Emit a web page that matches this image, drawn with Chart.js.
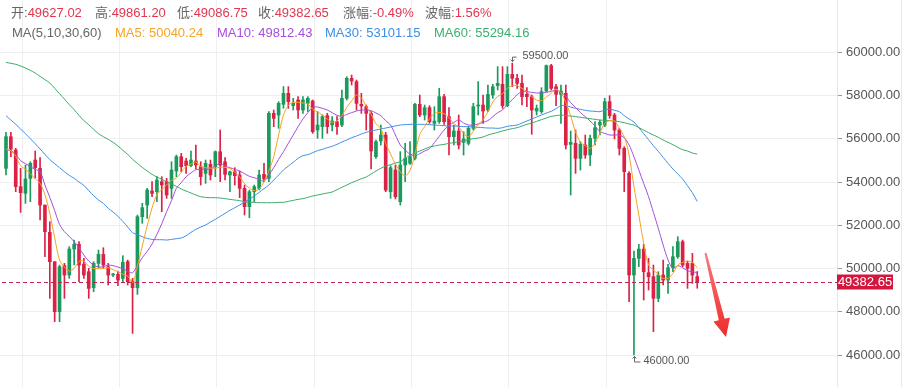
<!DOCTYPE html>
<html><head><meta charset="utf-8">
<script src="https://cdn.jsdelivr.net/npm/chart.js@4.4.1/dist/chart.umd.min.js"></script>
<style>
html,body{margin:0;padding:0;background:#fff;}
#wrap{position:relative;width:906px;height:387px;overflow:hidden;}
#c{position:absolute;left:0;top:0;}
.hdr{position:absolute;font-family:"Liberation Sans","Noto Sans CJK SC",sans-serif;font-size:13px;white-space:nowrap;line-height:16px;}
.lb{color:#666}
.rv{color:#e3364f}
</style></head>
<body>
<div id="wrap">
<canvas id="c" width="906" height="387"></canvas>
<div id="h1"></div>
<div id="h2"></div>
</div>
<script>
// ---------------- data ----------------
const open = [
54633,56097,55480,53784,53476,54170,55018,54633,52936,51672,
50315,48002,50130,49698,50901,51117,50208,49852,49112,50238,
50654,50084,49698,49729,49544,50315,49421,49112,52397,52936,
53584,53553,54016,54016,53707,54509,55172,54972,54756,54972,
54710,54401,54818,54710,55403,54941,54324,54478,54324,53707,
52859,53553,53707,54355,54170,57177,57100,57593,58102,57532,
57794,57331,57640,57747,56406,56560,57069,56637,56791,56637,
57871,58796,58642,57594,57485,57177,55172,55897,56175,53553,
54555,53091,54787,54864,55095,57593,57100,57439,56714,56791,
57948,57023,56098,56360,55835,55789,56483,57517,57563,57331,
58025,58457,58519,57532,58981,58796,58565,58056,57948,57285,
57254,58210,59382,58410,58056,58102,55743,55789,55095,55712,
55249,56021,56637,56637,57717,57100,56406,55558,54401,49698,
50469,50901,49806,49621,48619,49698,49467,50038,50546,51240,
50238,50238,49627.02];
const high = [
56298,56298,55558,54633,54787,54941,55434,55126,52936,52165,
50315,50161,50238,51009,51317,51240,50469,50007,50315,50854,
50962,50238,49775,49883,50592,50392,49544,52474,53014,53707,
54016,54247,54247,54170,54941,55249,55326,55095,55434,55712,
54941,55018,55018,55434,56406,55126,54509,54663,54509,53861,
53630,53861,54555,54864,57254,57331,57717,58411,58411,57871,
57948,57948,57948,57794,57254,57100,57177,57023,57023,58256,
58873,58950,58719,58102,57563,57254,55943,56637,56298,54756,
54787,55403,55789,55866,57640,58025,57563,57532,57485,58333,
58056,57439,56637,57100,56329,56560,57640,58642,58025,58488,
58519,59336,59336,59336,59500,58981,58950,58364,58025,57563,
58364,59413,59444,58519,58488,58488,56360,56406,55866,56175,
56175,56791,56868,57871,57994,57177,56483,55635,54478,50808,
51117,51117,50469,50161,49852,50392,50192,51009,51472,51317,
50346,50700,49861.20];
const low = [
54324,55172,53553,52597,53014,53091,54170,52243,50546,48619,
47540,47540,48619,49544,50161,49390,49544,48619,48927,50038,
50007,49236,49621,49205,49359,49236,47000,48804,52088,52320,
53322,53091,52628,53245,53245,54247,54478,54401,54710,54602,
53861,53939,54093,54247,54016,54093,53553,53861,53276,52474,
52350,53091,53630,54016,54016,56560,56483,57408,57408,57331,
56946,57177,57254,56252,56021,56021,56252,56360,56206,56560,
57794,58488,57331,57177,56406,54602,55095,55712,53553,53245,
53214,52936,54016,54818,55018,57023,56868,56714,56406,56714,
56668,55249,55712,55527,55249,55712,56406,57100,56714,57254,
57871,58256,57408,57485,58411,58333,57563,57485,56206,57100,
57177,58179,58256,57532,56714,55527,53399,54401,54555,55095,
54756,55712,56175,56560,56946,55990,55249,53553,48465,46000,
50084,48542,49005,47077,48465,49236,48850,49853,50469,50084,
49082,49313,49086.75];
const close = [
56097,55527,53784,53507,54139,54864,54663,52936,51703,50315,
48002,50084,49698,50901,51117,50161,49698,49081,50238,50654,
50161,49698,49729,49467,50284,49390,49112,52397,52813,53630,
53476,54093,53861,53399,54555,55172,54710,54756,55018,54787,
54247,54864,54324,55403,54787,54355,54478,54293,53707,52859,
53553,53784,54324,54139,57177,56946,57639,58102,57717,57639,
57331,57794,57870,56329,56637,57023,56560,56822,56560,57871,
58796,58673,57640,57516,57177,55434,55866,56175,53630,54663,
53322,54787,55095,55172,57593,57100,57439,56792,56822,57948,
56791,56098,56360,55712,55990,56483,57485,57563,57285,58056,
58410,58565,57532,58981,58796,58565,57948,57948,57331,57408,
58179,59382,58333,58056,58210,55712,55835,55095,55743,55249,
56021,56514,56760,57717,57069,56406,55558,54478,49698,50469,
50901,49852,49621,48619,49698,49467,50038,50546,51240,50161,
50007,49698,49382.65];
const ma5 = [
55527,55450,55188,54756,54586,54386,54155,53939,53414,52551,
51425,50392,50068,49883,50007,50330,50346,50099,50007,49991,
50007,50038,49945,49852,49745,49652,49359,50115,51040,51965,
52798,53414,53646,53862,54078,54185,54448,54725,54833,54926,
54710,54663,54648,54633,54694,54679,54633,54448,54247,53923,
53723,53600,53677,54016,54509,55172,56175,57100,57547,57686,
57686,57655,57609,57362,57239,57100,56915,56761,56822,57069,
57454,57747,58025,57902,57501,57131,56699,56483,55789,55296,
54833,54478,54278,54540,55280,56205,56560,56930,57177,57223,
57162,56977,56699,56545,56252,56098,56344,56668,56884,57254,
57701,57963,58087,58333,58457,58457,58333,58179,57948,57794,
57763,57932,58102,58287,58133,57686,57069,56313,55851,55681,
55558,55789,56267,56714,56838,56822,56483,56098,55249,53785,
52474,51163,50161,49930,49729,49544,49544,49775,50161,50284,
50346,50284,50040.24];
const ma10 = [
55481,55450,55280,54987,54848,54710,54586,54478,53862,53291,
52674,52042,51703,51487,51240,50963,50623,50346,50161,50068,
50084,50161,50130,50068,49991,49868,49806,50146,50500,50793,
51132,51579,52073,52628,53137,53708,53970,54247,54417,54571,
54586,54602,54602,54740,54864,54740,54663,54586,54509,54386,
54263,54201,54124,54031,54324,54663,55049,55404,55789,56175,
56560,56915,57208,57454,57470,57408,57331,57208,57084,57038,
57131,57208,57285,57331,57331,57300,57192,57069,56838,56637,
56175,55712,55481,55280,55203,55311,55434,55542,55820,56113,
56406,56622,56761,56869,56730,56637,56637,56683,56761,56838,
57023,57208,57331,57593,57809,58040,58179,58179,58148,58117,
58117,58148,58195,58256,58133,57979,57670,57454,57208,57023,
56822,56591,56329,56252,56175,56175,56175,56051,55712,55172,
54555,53939,53322,52597,51857,51086,50392,50007,50130,50037,
49898,49852,49812.43];
const ma30 = [
57069,56869,56668,56452,56236,56005,55774,55527,55280,55034,
54848,54663,54478,54309,54170,54000,53846,53600,53368,53168,
53013,52782,52613,52412,52181,51919,51657,51564,51472,51394,
51348,51333,51333,51317,51348,51379,51410,51518,51672,51811,
51919,52011,52150,52273,52412,52551,52690,52813,52936,53075,
53199,53353,53522,53692,53862,54093,54324,54555,54741,54910,
55095,55219,55265,55357,55450,55512,55589,55651,55743,55851,
55943,56051,56128,56221,56298,56360,56406,56452,56498,56545,
56591,56637,56653,56668,56668,56668,56668,56653,56637,56622,
56606,56591,56591,56576,56560,56560,56545,56529,56514,56498,
56498,56483,56514,56576,56606,56637,56730,56822,56915,57007,
57100,57192,57269,57393,57532,57532,57470,57408,57362,57316,
57285,57269,57254,57331,57377,57316,57254,57069,56915,56776,
56514,56236,55959,55681,55419,55142,54864,54602,54371,54139,
53831,53507,53101.15];
const ma60 = [
59536,59490,59444,59367,59274,59166,59043,58888,58734,58580,
58333,58087,57840,57578,57347,57084,56838,56653,56437,56236,
56097,55974,55835,55666,55465,55280,55049,54864,54679,54509,
54355,54232,54124,54016,53908,53800,53677,53584,53492,53399,
53322,53291,53276,53276,53260,53229,53199,53168,53137,53091,
53060,53060,53044,53044,53044,53044,53060,53060,53106,53152,
53199,53229,53291,53353,53399,53445,53492,53538,53646,53754,
53862,53970,54062,54155,54232,54371,54509,54633,54740,54802,
54879,54941,55095,55249,55342,55434,55527,55619,55666,55712,
55743,55789,55820,55866,55897,55959,56005,56036,56082,56175,
56236,56298,56360,56421,56468,56514,56591,56668,56730,56807,
56884,56961,57038,57069,57100,57069,57054,57023,56992,56961,
56930,56899,56869,56853,56838,56822,56791,56745,56683,56637,
56514,56406,56282,56175,56067,55943,55835,55727,55604,55496,
55434,55342,55294.16];
const yTicks = [46000,48000,50000,52000,54000,56000,58000,60000];
const headerLine1 = [["开:", "49627.02"], ["高:", "49861.20"], ["低:", "49086.75"], ["收:", "49382.65"], ["涨幅:", "-0.49%"], ["波幅:", "1.56%"]];
const headerLine2 = ["MA(5,10,30,60)", "MA5: 50040.24", "MA10: 49812.43", "MA30: 53101.15", "MA60: 55294.16"];

// ---------------- header ----------------
const h1x = [11, 95, 177, 258, 343, 425];
const h2x = [12, 115, 217, 325, 434];
const maColors = ['#666', '#f5a524', '#a64de0', '#3d8fe6', '#3bb06c'];
const h1 = document.getElementById('h1');
headerLine1.forEach((p, k) => {
  const d = document.createElement('div');
  d.className = 'hdr';
  d.style.left = h1x[k] + 'px'; d.style.top = '5px';
  d.innerHTML = '<span class="lb">' + p[0] + '</span><span class="rv">' + p[1] + '</span>';
  h1.appendChild(d);
});
const h2 = document.getElementById('h2');
headerLine2.forEach((t, k) => {
  const d = document.createElement('div');
  d.className = 'hdr';
  d.style.left = h2x[k] + 'px'; d.style.top = '24.5px';
  d.style.color = maColors[k];
  d.textContent = t;
  h2.appendChild(d);
});

// ---------------- chart ----------------
const UP = '#1a9a5c', DOWN = '#dc2146';
const idx = close.map((_, i) => i);
const cColors = idx.map(i => close[i] >= open[i] ? UP : DOWN);
const wickData = idx.map(i => ({x: i, y: [low[i], high[i]]}));
const bodyData = idx.map(i => ({x: i, y: [open[i], close[i]]}));
const asLine = arr => arr.map((v, i) => ({x: i, y: v}));
const lineDs = (arr, color) => ({type: 'line', data: asLine(arr), borderColor: color, borderWidth: 1,
  pointRadius: 0, tension: 0.3, order: 1, fill: false});

const overlay = {
  id: 'overlay',
  afterDatasetsDraw(chart) {
    const {ctx, chartArea: a, scales: {x, y}} = chart;
    const last = close[close.length - 1];
    const py = Math.round(y.getPixelForValue(last)) + 0.5;
    ctx.save();
    ctx.strokeStyle = '#bd2452';
    ctx.lineWidth = 1;
    ctx.setLineDash([4, 3]);
    ctx.beginPath(); ctx.moveTo(a.left + 2, py); ctx.lineTo(a.right, py); ctx.stroke();
    ctx.setLineDash([]);

    // high / low markers
    const hMax = Math.max(...high), lMin = Math.min(...low);
    const iMax = high.indexOf(hMax), iMin = low.indexOf(lMin);
    ctx.strokeStyle = '#666'; ctx.fillStyle = '#555';
    ctx.font = '11px "Liberation Sans", sans-serif';
    ctx.textBaseline = 'middle'; ctx.textAlign = 'left';
    let hx = Math.round(x.getPixelForValue(iMax)) + 0.5, hy = y.getPixelForValue(hMax);
    ctx.beginPath();
    ctx.moveTo(hx + 4, hy - 6); ctx.lineTo(hx, hy - 6); ctx.lineTo(hx, hy - 1.5);
    ctx.moveTo(hx - 2, hy - 3.5); ctx.lineTo(hx, hy - 1.5); ctx.lineTo(hx + 2, hy - 3.5);
    ctx.stroke();
    ctx.fillText(hMax.toFixed(2), hx + 10, hy - 7);
    let lx = Math.round(x.getPixelForValue(iMin)) + 0.5, ly = y.getPixelForValue(lMin);
    ctx.beginPath();
    ctx.moveTo(lx + 6, ly + 7); ctx.lineTo(lx, ly + 7); ctx.lineTo(lx, ly + 1.5);
    ctx.moveTo(lx - 2, ly + 3.5); ctx.lineTo(lx, ly + 1.5); ctx.lineTo(lx + 2, ly + 3.5);
    ctx.stroke();
    ctx.fillText(lMin.toFixed(2), lx + 9, ly + 5.5);

    // red trend arrow
    const p0 = {x: x.getPixelForValue(143.7), y: y.getPixelForValue(50718)};
    const p1 = {x: x.getPixelForValue(147.9), y: y.getPixelForValue(46833)};
    const dx = p1.x - p0.x, dy = p1.y - p0.y, L = Math.hypot(dx, dy);
    const u = {x: dx / L, y: dy / L}, n = {x: -u.y, y: u.x};
    const hl = 18, hw = 8.5;
    const b = {x: p1.x - u.x * hl, y: p1.y - u.y * hl};
    const P = (q, s) => [q.x + n.x * s, q.y + n.y * s];
    const pts = [P(p0, 1), P(b, 3), P(b, hw), [p1.x, p1.y], P(b, -hw), P(b, -3), P(p0, -1)];
    const g = ctx.createLinearGradient(p0.x, p0.y, p1.x, p1.y);
    g.addColorStop(0, '#f77a7a'); g.addColorStop(1, '#ee2a2a');
    ctx.fillStyle = g;
    ctx.beginPath();
    pts.forEach((q, k) => k ? ctx.lineTo(q[0], q[1]) : ctx.moveTo(q[0], q[1]));
    ctx.closePath(); ctx.fill();
    ctx.restore();
  },
  afterDraw(chart) {
    const {ctx, chartArea: a, scales: {y}} = chart;
    const last = close[close.length - 1];
    const py = y.getPixelForValue(last);
    ctx.save();
    ctx.fillStyle = '#d3163e';
    ctx.fillRect(a.right, Math.round(py) - 7.5, 56, 15);
    ctx.fillStyle = '#fff';
    ctx.font = '13px "Liberation Sans", sans-serif';
    ctx.textAlign = 'center'; ctx.textBaseline = 'middle';
    ctx.fillText(last.toFixed(2), a.right + 28, Math.round(py) + 0.5);
    ctx.strokeStyle = '#e8e8e8'; ctx.lineWidth = 1;
    ctx.beginPath(); ctx.moveTo(901.5, 0); ctx.lineTo(901.5, chart.height); ctx.stroke();
    ctx.restore();
  }
};

new Chart(document.getElementById('c'), {
  data: {
    datasets: [
      lineDs(ma5, '#f6a21e'),
      lineDs(ma10, '#a24fdc'),
      lineDs(ma30, '#3f8fe6'),
      lineDs(ma60, '#3aaa67'),
      {type: 'bar', data: bodyData, backgroundColor: cColors, grouped: false, barThickness: 3, maxBarThickness: 3, minBarLength: 1, order: 5},
      {type: 'bar', data: wickData, backgroundColor: cColors, grouped: false, barThickness: 1, maxBarThickness: 1, order: 6}
    ]
  },
  options: {
    animation: false, responsive: false, maintainAspectRatio: false,
    layout: {padding: 0},
    plugins: {legend: {display: false}, tooltip: {enabled: false}},
    scales: {
      x: {
        type: 'linear', min: -1.2325, max: 170.71, offset: false,
        ticks: {display: false},
        grid: {color: '#efefef', drawTicks: false, offset: false},
        border: {display: false},
        afterBuildTicks: s => { s.ticks = [0,1,2,3,4,5,6].map(k => ({value: 3.29 + 20 * k})); },
        afterFit: s => { s.height = 0; s.paddingLeft = 0; s.paddingRight = 0; }
      },
      y: {
        position: 'right', min: 44520, max: 62419, offset: false,
        afterBuildTicks: s => { s.ticks = yTicks.map(v => ({value: v})); },
        afterFit: s => { s.width = 69; s.paddingTop = 0; s.paddingBottom = 0; },
        ticks: {color: '#555', font: {family: '"Liberation Sans", sans-serif', size: 13}, padding: 4,
          callback: v => Number(v).toFixed(2)},
        grid: {color: '#efefef', tickLength: 5, tickColor: '#999', drawTicks: true},
        border: {display: true, color: '#e6e6e6'}
      }
    }
  },
  plugins: [overlay]
});
</script>
</body></html>
